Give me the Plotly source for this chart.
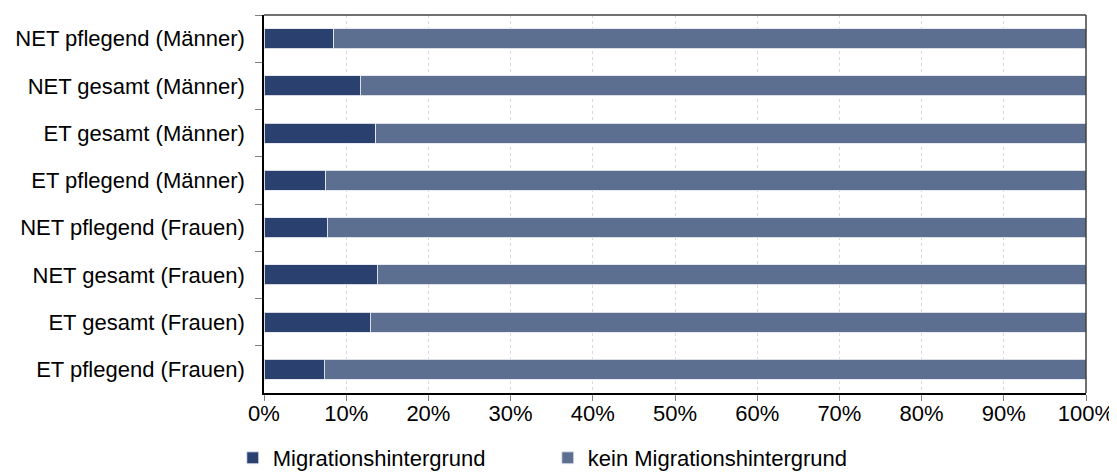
import plotly.graph_objects as go

categories = [
    "NET pflegend (Männer)",
    "NET gesamt (Männer)",
    "ET gesamt (Männer)",
    "ET pflegend (Männer)",
    "NET pflegend (Frauen)",
    "NET gesamt (Frauen)",
    "ET gesamt (Frauen)",
    "ET pflegend (Frauen)",
]
mit_migration = [8.5, 11.7, 13.6, 7.5, 7.7, 13.8, 12.9, 7.3]
ohne_migration = [91.5, 88.3, 86.4, 92.5, 92.3, 86.2, 87.1, 92.7]
x_ticks = [0, 10, 20, 30, 40, 50, 60, 70, 80, 90, 100]
x_tick_labels = [f"{v}%" for v in x_ticks]

FONT = "Liberation Sans, Arial, sans-serif"
DARK = "rgb(42,65,112)"
LIGHT = "rgb(92,111,145)"

fig = go.Figure()
fig.add_trace(go.Bar(
    y=categories, x=mit_migration, orientation="h", name="Migrationshintergrund",
    marker=dict(color=DARK, line=dict(color="rgba(230,233,240,0.9)", width=1)),
))
fig.add_trace(go.Bar(
    y=categories, x=ohne_migration, orientation="h", name="kein Migrationshintergrund",
    marker=dict(color=LIGHT, line=dict(color="rgba(230,233,240,0.9)", width=1)),
))

# page body has an 8px margin, so the figure is sized to the visible area
fig.update_layout(
    width=1109, height=468,
    barmode="stack", bargap=0.58,
    plot_bgcolor="white", paper_bgcolor="white",
    margin=dict(l=256, r=31, t=7, b=83, autoexpand=False),
    font=dict(family=FONT, size=22, color="black"),
    showlegend=True,
    legend=dict(
        orientation="h", x=-0.038, xanchor="left", y=-0.172, yanchor="middle",
        font=dict(family=FONT, size=22, color="black"),
        entrywidth=270, itemwidth=30, traceorder="normal",
        tracegroupgap=0,
    ),
    xaxis=dict(
        range=[0, 100], tickvals=x_ticks, ticktext=x_tick_labels,
        showgrid=True, gridcolor="#d9d9d9", griddash="dot", gridwidth=1,
        showline=True, linecolor="black", linewidth=1.5,
        ticks="outside", ticklen=6, tickcolor="#7f7f7f",
        zeroline=False, tickfont=dict(family=FONT, size=22), automargin=False,
        ticklabelstandoff=-6,
    ),
    yaxis=dict(
        autorange="reversed", type="category",
        showline=True, linecolor="black", linewidth=1.5,
        ticks="outside", ticklen=7, tickcolor="#7f7f7f", tickson="boundaries",
        showgrid=False, ticklabelstandoff=13, automargin=False,
        tickfont=dict(family=FONT, size=22),
    ),
    shapes=[
        dict(type="line", xref="paper", yref="paper", x0=0, x1=1, y0=1, y1=1,
             line=dict(color="#404040", width=1.5)),
        dict(type="line", xref="paper", yref="paper", x0=1, x1=1, y0=0, y1=1,
             line=dict(color="#404040", width=1.5)),
    ],
)

fig.write_html("out.html")
